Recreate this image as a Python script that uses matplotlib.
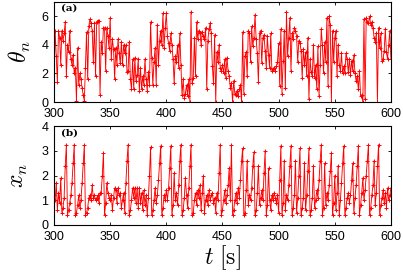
import numpy as np
import matplotlib
matplotlib.use('Agg')
import matplotlib.pyplot as plt

plt.rcParams['mathtext.fontset'] = 'cm'

# sampling times, one per second
t = np.arange(300, 601)

theta = [1.4, 5.0, 3.2, 1.4, 5.0, 4.5, 2.6, 5.0, 4.3, 4.8,
         5.6, 1.8, 4.0, 3.5, 5.0, 3.0, 2.6, 3.3, 2.0, 2.4,
         0.1, 3.8, 1.2, 2.0, 1.6, 1.0, 0.5, 0.1, 2.4, 4.9,
         1.6, 5.3, 5.8, 5.5, 5.0, 2.8, 5.5, 1.8, 5.6, 5.7,
         5.7, 0.5, 4.2, 3.4, 5.2, 5.2, 2.2, 5.2, 4.6, 3.8,
         5.9, 3.0, 4.4, 3.7, 1.6, 3.8, 2.6, 4.4, 3.4, 2.7,
         4.2, 2.6, 4.0, 3.4, 4.0, 2.1, 2.2, 4.2, 1.6, 0.9,
         3.0, 0.9, 3.1, 1.5, 1.9, 3.0, 0.8, 2.4, 0.9, 1.8,
         1.2, 3.0, 1.6, 0.8, 2.1, 1.2, 5.6, 3.1, 1.2, 2.8,
         3.8, 1.2, 5.4, 2.6, 4.3, 5.0, 4.0, 6.2, 3.8, 5.2,
         6.2, 4.6, 4.1, 3.6, 4.8, 4.0, 3.0, 1.3, 3.2, 2.8,
         4.0, 2.4, 4.8, 2.6, 0.5, 1.6, 0.3, 0.6, 1.2, 0.4,
         1.6, 0.0, 6.3, 1.3, 1.7, 4.5, 1.8, 5.6, 4.4, 5.0,
         4.8, 4.0, 4.9, 4.6, 4.4, 5.2, 0.9, 4.3, 5.1, 5.5,
         4.8, 2.5, 1.3, 4.7, 0.0, 3.5, 2.8, 4.0, 2.4, 2.2,
         2.6, 2.0, 3.0, 1.7, 3.1, 2.2, 1.8, 1.0, 1.3, 0.0,
         1.5, 0.6, 0.5, 0.8, 0.4, 0.9, 1.2, 0.0, 4.9, 0.6,
         3.2, 3.5, 1.8, 5.0, 4.8, 2.8, 5.3, 3.9, 4.5, 6.1,
         4.4, 3.4, 1.4, 4.8, 5.0, 2.7, 4.5, 4.7, 3.6, 2.4,
         4.6, 3.3, 2.4, 4.8, 2.2, 2.3, 2.4, 2.2, 2.5, 2.8,
         4.1, 1.1, 5.1, 0.6, 2.9, 5.0, 1.0, 6.3, 3.2, 4.5,
         5.9, 2.2, 4.8, 4.4, 5.2, 5.0, 4.6, 2.8, 4.3, 4.1,
         3.6, 1.7, 3.7, 2.6, 3.5, 1.8, 4.5, 0.2, 3.0, 2.1,
         1.8, 4.0, 1.7, 2.6, 0.9, 3.9, 0.4, 2.6, 5.1, 4.0,
         2.0, 4.2, 2.8, 5.9, 1.1, 6.0, 5.4, 0.0, 5.0, 2.8,
         4.5, 5.0, 1.8, 4.0, 2.6, 2.2, 3.4, 2.0, 2.5, 2.0,
         3.4, 3.0, 2.1, 3.0, 1.9, 2.9, 2.2, 3.3, 2.0, 1.5,
         1.8, 0.9, 2.2, 0.4, 0.5, 0.0, 5.8, 0.2, 5.9, 5.6,
         5.5, 6.0, 5.4, 5.6, 5.2, 4.5, 4.2, 4.8, 0.0, 5.2,
         3.8, 4.8, 2.9, 3.0, 3.6, 5.1, 3.5, 3.0, 4.0, 5.0,
         3.0]

xn = [1.2, 1.0, 1.7, 0.6, 1.3, 0.9, 1.9, 0.5, 0.7, 1.1,
      2.4, 3.25, 0.4, 0.6, 0.9, 1.2, 1.7, 2.5, 3.25, 0.4,
      0.5, 0.8, 1.2, 0.7, 1.0, 1.7, 2.5, 3.25, 0.4, 0.5,
      0.7, 1.1, 1.2, 1.0, 1.6, 1.1, 1.2, 1.0, 1.1, 1.2,
      0.9, 1.3, 1.3, 2.0, 2.9, 0.4, 0.9, 1.7, 1.3, 1.1,
      1.0, 1.2, 0.6, 1.1, 1.5, 1.4, 0.9, 1.5, 1.2, 1.3,
      0.7, 1.0, 1.3, 0.5, 1.7, 2.6, 3.25, 0.4, 0.6, 1.0,
      1.5, 1.1, 1.5, 0.9, 1.5, 0.7, 1.5, 0.9, 1.3, 0.6,
      1.4, 0.8, 1.2, 0.4, 1.1, 2.0, 3.15, 0.4, 0.6, 1.0,
      1.5, 0.9, 1.2, 1.8, 2.5, 3.2, 0.4, 0.7, 1.2, 1.0,
      1.4, 1.0, 1.5, 2.3, 3.2, 0.4, 0.8, 2.1, 1.0, 1.3,
      0.8, 1.6, 2.6, 3.25, 0.4, 0.6, 1.1, 1.9, 1.2, 0.7,
      1.5, 2.4, 3.25, 0.4, 0.5, 1.0, 1.3, 0.8, 1.4, 1.1,
      1.6, 0.6, 1.3, 2.0, 0.5, 1.0, 1.2, 0.8, 1.4, 1.0,
      1.2, 1.3, 0.9, 1.1, 0.5, 1.3, 1.0, 2.1, 3.25, 0.4,
      0.6, 1.0, 1.4, 0.9, 1.2, 1.6, 2.3, 1.0, 3.25, 0.4,
      0.6, 1.0, 1.3, 0.9, 1.5, 1.1, 1.8, 2.6, 3.1, 0.4,
      0.5, 1.4, 2.6, 0.8, 1.2, 1.0, 1.5, 2.4, 2.95, 0.4,
      0.6, 1.3, 2.4, 0.8, 1.1, 1.4, 1.0, 2.1, 3.0, 0.4,
      0.8, 2.3, 1.0, 0.6, 1.2, 1.0, 1.3, 1.1, 0.9, 1.2,
      0.5, 1.8, 3.2, 0.4, 0.9, 2.6, 0.6, 1.2, 1.0, 1.6,
      2.4, 3.2, 0.4, 0.7, 1.2, 2.6, 0.5, 1.1, 2.0, 3.1,
      0.4, 0.7, 1.1, 2.5, 0.6, 1.2, 2.2, 3.1, 0.4, 0.6,
      1.1, 2.4, 0.7, 1.0, 1.4, 1.1, 1.8, 2.6, 3.25, 0.4,
      0.7, 2.5, 0.8, 1.3, 1.0, 1.6, 2.2, 2.9, 0.4, 0.9,
      2.0, 0.6, 1.3, 2.4, 0.4, 1.0, 1.7, 2.5, 3.2, 0.4,
      0.7, 1.1, 1.3, 0.9, 1.2, 1.8, 2.5, 0.5, 1.1, 1.6,
      2.4, 3.2, 0.4, 0.8, 1.3, 1.9, 1.0, 1.4, 2.0, 2.6,
      3.25, 0.4, 0.7, 1.2, 1.6, 2.6, 0.8, 1.3, 2.4, 3.25,
      0.4, 0.8, 1.1, 1.4, 0.9, 1.3, 0.7, 1.5, 1.0, 1.2,
      1.5]

fig = plt.figure(figsize=(4.03, 2.73), dpi=100)
ax1 = fig.add_axes([0.134, 0.626, 0.836, 0.367])
ax2 = fig.add_axes([0.134, 0.176, 0.836, 0.362])

for ax, y in [(ax1, theta), (ax2, xn)]:
    ax.plot(t, y, color='red', lw=0.65, marker='+', ms=2.5, mew=0.7)
    ax.set_xlim(300, 600)
    ax.set_xticks([300, 350, 400, 450, 500, 550, 600])
    ax.tick_params(direction='in', top=True, right=True, length=2.5,
                   labelsize=9, width=0.6)
    ax.tick_params(axis='x', pad=4.5)
    ax.tick_params(axis='y', pad=4)
    for lab in ax.get_xticklabels() + ax.get_yticklabels():
        lab.set_family('Liberation Sans')
    for s in ax.spines.values():
        s.set_linewidth(0.8)

ax1.set_ylim(0, 7)
ax1.set_yticks([0, 2, 4, 6])
ax2.set_ylim(0, 4)
ax2.set_yticks([0, 1, 2, 3, 4])

ax1.set_ylabel(r'$\theta_n$', fontsize=17, labelpad=6)
ax2.set_ylabel(r'$x_n$', fontsize=17, labelpad=8)
ax2.set_xlabel(r'$t\ [\mathrm{s}]$', fontsize=17, labelpad=0)

ax1.text(0.02, 0.98, '(a)', transform=ax1.transAxes, fontsize=7.5,
         fontweight='bold', family='DejaVu Serif', va='top')
ax2.text(0.02, 0.98, '(b)', transform=ax2.transAxes, fontsize=7.5,
         fontweight='bold', family='DejaVu Serif', va='top')

fig.savefig('out.png', dpi=100)
